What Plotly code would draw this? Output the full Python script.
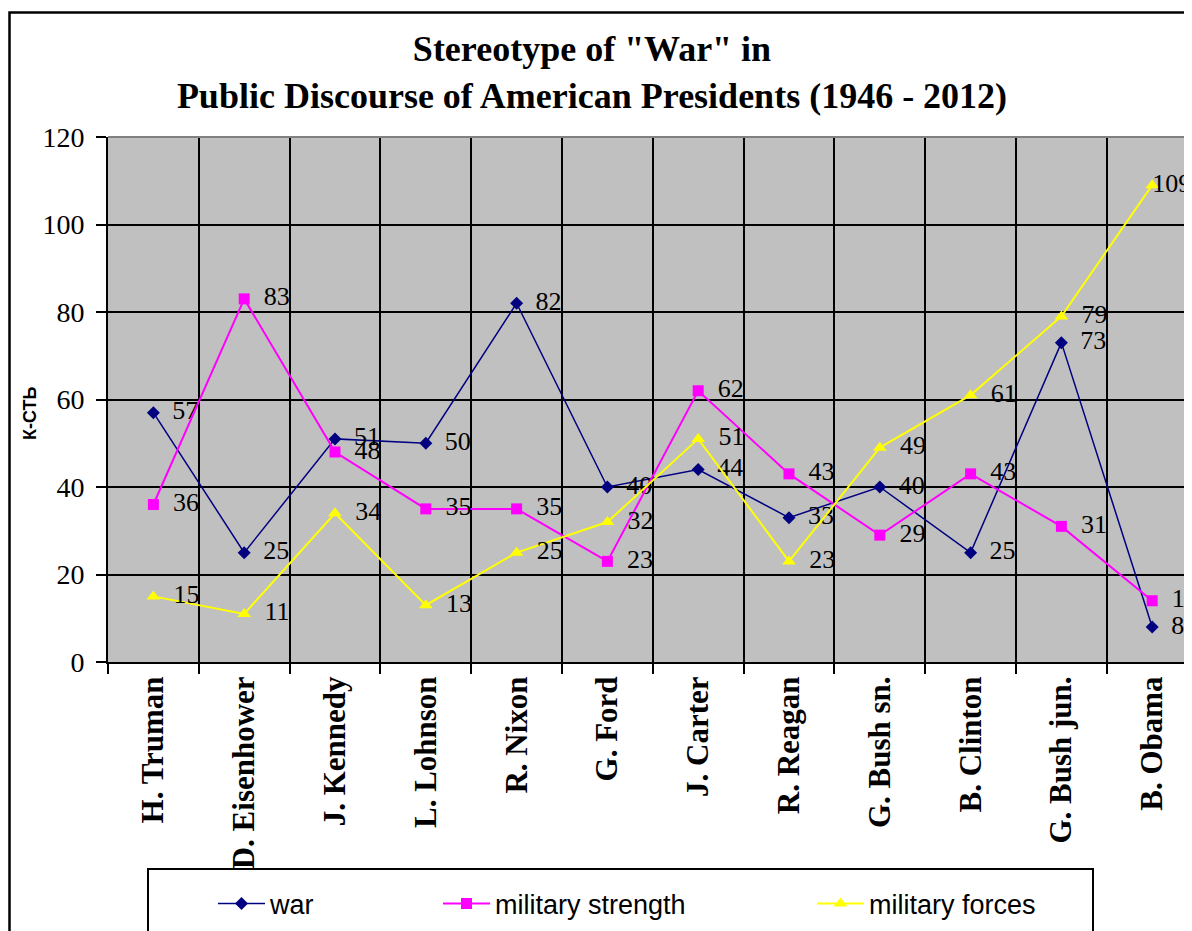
import plotly.graph_objects as go

presidents = ["H. Truman", "D. Eisenhower", "J. Kennedy", "L. Lohnson", "R. Nixon", "G. Ford",
              "J. Carter", "R. Reagan", "G. Bush sn.", "B. Clinton", "G. Bush jun.", "B. Obama"]
war = [57, 25, 51, 50, 82, 40, 44, 33, 40, 25, 73, 8]
military_strength = [36, 83, 48, 35, 35, 23, 62, 43, 29, 43, 31, 14]
military_forces = [15, 11, 34, 13, 25, 32, 51, 23, 49, 61, 79, 109]
y_ticks = [0, 20, 40, 60, 80, 100, 120]

OFF = 8  # page body margin
W, H = 1192 - OFF, 931 - OFF
ML, MR, MT = 108 - OFF, 0, 137 - OFF
MB = H - (662 - OFF)
PW = W - ML - MR
PH = H - MT - MB
CAT_W = 90.8

# helpers taking page (reference) pixel coords
def px(x):
    return (x - OFF - ML) / PW

def py(y):
    return (H - MB - (y - OFF)) / PH

def cx(x):
    return (x - OFF) / W

def cy(y):
    return 1 - (y - OFF) / H

SERIF = "Liberation Serif, Times New Roman, serif"
SANS = "Liberation Sans, Arial, sans-serif"
PAD = "\u00a0\u2009"

def labels(vals, last_tight=False):
    out = [PAD + str(v) for v in vals]
    pos = ["middle right"] * len(vals)
    if last_tight:
        # label pulled back over the marker (as in the original, which fits it inside the chart)
        out[-1] = "\u00a0" * 6 + str(vals[-1])
        pos[-1] = "middle center"
    return out, pos

series = [
    ("war", war, "#000080", "diamond", 10, 1.5, False),
    ("military strength", military_strength, "#FF00FF", "square", 11, 2, False),
    ("military forces", military_forces, "#FFFF00", "triangle-up", 12, 2, True),
]

fig = go.Figure()
legend_ids = ["legend", "legend2", "legend3"]
for (name, vals, color, sym, size, lw, tight), lid in zip(series, legend_ids):
    txt, pos = labels(vals, tight)
    fig.add_trace(go.Scatter(
        x=presidents, y=vals, name=name, mode="lines+markers+text",
        line=dict(color=color, width=lw),
        marker=dict(symbol=sym, size=size, color=color),
        text=txt, textposition=pos,
        textfont=dict(family=SERIF, size=26, color="black"),
        cliponaxis=False, legend=lid,
    ))

legend_common = dict(
    xref="container", yref="container", orientation="h",
    yanchor="middle", xanchor="left",
    font=dict(family=SANS, size=27, color="black"),
    bgcolor="rgba(0,0,0,0)", borderwidth=0, itemwidth=47,
)
leg_y = cy(904)
fig.update_layout(
    legend=dict(x=cx(213), y=leg_y, **legend_common),
    legend2=dict(x=cx(438), y=leg_y, **legend_common),
    legend3=dict(x=cx(812), y=leg_y, **legend_common),
)

x_span = PW / CAT_W
fig.update_xaxes(
    type="category", range=[-0.5, -0.5 + x_span], tickson="boundaries",
    ticks="outside", ticklen=10, tickcolor="black", tickwidth=1.5,
    showgrid=True, gridcolor="black", gridwidth=1.5,
    showline=True, linecolor="black", linewidth=2,
    tickangle=-90, tickfont=dict(family=SERIF, size=31, color="black", weight="bold"),
    fixedrange=True,
)
fig.update_yaxes(
    range=[0, 120], tickvals=y_ticks, ticks="outside", ticklen=10, tickcolor="black",
    tickwidth=1.5, showgrid=True, gridcolor="black", gridwidth=1.5,
    showline=True, linecolor="black", linewidth=2, zeroline=False,
    tickfont=dict(family=SERIF, size=28, color="black"), ticklabelstandoff=6,
    fixedrange=True,
)

shapes = [
    # top border of plot area (gray)
    dict(type="line", xref="paper", yref="paper", x0=0, x1=1.01, y0=1, y1=1,
         line=dict(color="#808080", width=2), layer="above"),
    # outer chart border
    dict(type="rect", xref="paper", yref="paper", x0=px(9.5), x1=1.2, y0=py(1000), y1=py(12.5),
         line=dict(color="black", width=2.5), layer="above"),
    # legend box
    dict(type="rect", xref="paper", yref="paper", x0=px(148), x1=px(1093), y0=py(1000), y1=py(869),
         line=dict(color="black", width=2), layer="above"),
]

annotations = [
    dict(text="К-СТЬ", xref="paper", yref="paper", x=px(30), y=py(413), textangle=-90,
         showarrow=False, xanchor="center", yanchor="middle",
         font=dict(family=SANS, size=18, color="black", weight="bold")),
]

fig.update_layout(
    width=W, height=H, margin=dict(l=ML, r=MR, t=MT, b=MB, pad=0),
    paper_bgcolor="white", plot_bgcolor="#C0C0C0",
    title=dict(text="Stereotype of \"War\" in<br>Public Discourse of American Presidents (1946 - 2012)",
               x=cx(592), xanchor="center", y=cy(61), yanchor="middle",
               font=dict(family=SERIF, size=36, color="black", weight="bold")),
    shapes=shapes, annotations=annotations, showlegend=True,
)

fig.write_html("out.html")
